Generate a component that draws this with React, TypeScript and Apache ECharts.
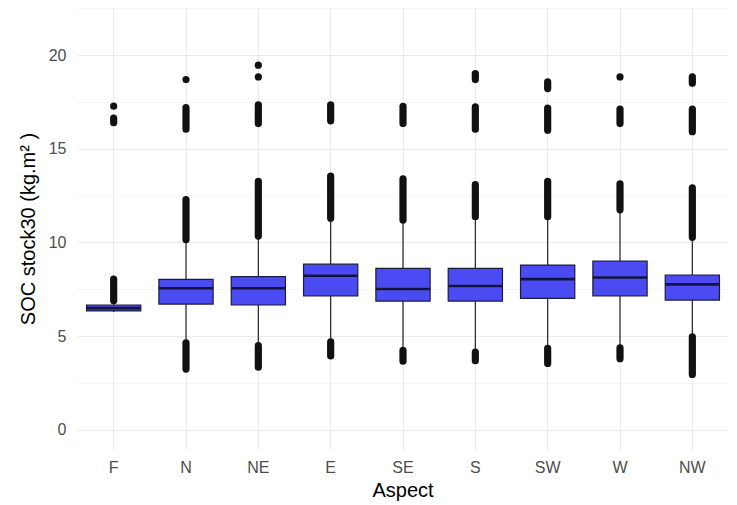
import React, { useEffect, useRef } from "react";
import * as echarts from "echarts";

const categories = ["F", "N", "NE", "E", "SE", "S", "SW", "W", "NW"];
const whiskerLow = [6.3, 4.8, 4.66, 4.84, 4.39, 4.3, 4.5, 4.53, 5.12];
const q1 = [6.35, 6.72, 6.67, 7.16, 6.88, 6.88, 7.02, 7.16, 6.93];
const median = [6.5, 7.56, 7.56, 8.23, 7.52, 7.68, 8.05, 8.14, 7.77];
const q3 = [6.67, 8.04, 8.18, 8.85, 8.62, 8.62, 8.8, 9.01, 8.27];
const whiskerHigh = [6.78, 10.0, 10.2, 11.16, 11.06, 11.23, 11.23, 11.6, 10.13];

// outliers: [category index, low, high] (dense runs drawn as one capsule)
const outlierRanges: [number, number, number][] = [
  [0, 17.28, 17.28], [0, 16.4, 16.65], [0, 6.9, 8.05],
  [1, 18.7, 18.7], [1, 16.05, 17.2], [1, 10.15, 12.3], [1, 3.25, 4.65],
  [2, 19.47, 19.47], [2, 18.84, 18.84], [2, 16.35, 17.35], [2, 10.35, 13.27], [2, 3.35, 4.5],
  [3, 16.5, 17.35], [3, 11.3, 13.55], [3, 3.95, 4.7],
  [4, 16.35, 17.27], [4, 11.2, 13.4], [4, 3.67, 4.25],
  [5, 18.7, 19.02], [5, 16.05, 17.24], [5, 11.38, 13.1], [5, 3.7, 4.15],
  [6, 18.22, 18.58], [6, 16.0, 17.18], [6, 11.38, 13.27], [6, 3.55, 4.35],
  [7, 18.84, 18.84], [7, 16.35, 17.13], [7, 11.75, 13.13], [7, 3.8, 4.38],
  [8, 18.5, 18.85], [8, 15.92, 17.13], [8, 10.28, 12.92], [8, 2.96, 4.97],
];

const yTicks = [0, 5, 10, 15, 20];
const yMinor = [2.5, 7.5, 12.5, 17.5, 22.5];

const FONT = "'Liberation Sans', Arial, sans-serif";

export default function App() {
  const ref = useRef<HTMLDivElement>(null);
  useEffect(() => {
    if (!ref.current) return;
    const chart = echarts.init(ref.current, null, { renderer: "svg" });
    const gridLines: any[] = [
      ...yTicks.map((v) => ({ yAxis: v, lineStyle: { color: "#EBEBEB", width: 1.1, type: "solid" } })),
      ...yMinor.map((v) => ({ yAxis: v, lineStyle: { color: "#EFEFEF", width: 0.6, type: "solid" } })),
      ...categories.map((c) => ({ xAxis: c, lineStyle: { color: "#EBEBEB", width: 1.1, type: "solid" } })),
    ];
    const boxData = categories.map((_, i) => [i, whiskerLow[i], q1[i], median[i], q3[i], whiskerHigh[i]]);
    chart.setOption({
      animation: false,
      grid: { left: 77.5, right: 8.5, top: 8, bottom: 55, containLabel: false },
      xAxis: {
        type: "category",
        data: categories,
        boundaryGap: true,
        axisLine: { show: false },
        axisTick: { show: false },
        splitLine: { show: false },
        axisLabel: { color: "#4D4D4D", fontSize: 16, fontFamily: FONT, margin: 9 },
        name: "Aspect",
        nameLocation: "middle",
        nameGap: 30,
        nameTextStyle: { color: "#000", fontSize: 20, fontFamily: FONT },
      },
      yAxis: {
        type: "value",
        min: -1.07,
        max: 22.52,
        axisLine: { show: false },
        axisTick: { show: false },
        splitLine: { show: false },
        axisLabel: { color: "#4D4D4D", fontSize: 16, fontFamily: FONT, margin: 11, customValues: yTicks },
        name: "SOC stock30 (kg.m² )",
        nameLocation: "middle",
        nameGap: 40,
        nameRotate: 90,
        nameTextStyle: { color: "#000", fontSize: 20, fontFamily: FONT },
      },
      series: [
        {
          type: "line",
          data: [],
          z: 1,
          silent: true,
          markLine: { silent: true, z: 1, symbol: "none", label: { show: false }, data: gridLines, animation: false },
        },
        {
          type: "custom",
          z: 10,
          data: boxData,
          encode: { x: 0, y: [1, 2, 3, 4, 5] },
          renderItem: (params: any, api: any) => {
            const i = api.value(0);
            const band = api.size([1, 0])[0];
            const half = band * 0.375;
            const pLow = api.coord([i, api.value(1)]);
            const pQ1 = api.coord([i, api.value(2)]);
            const pMed = api.coord([i, api.value(3)]);
            const pQ3 = api.coord([i, api.value(4)]);
            const pHigh = api.coord([i, api.value(5)]);
            const cx = pQ1[0];
            const stroke = { stroke: "#222", lineWidth: 1.2 };
            return {
              type: "group",
              children: [
                { type: "line", shape: { x1: cx, y1: pQ3[1], x2: cx, y2: pHigh[1] }, style: stroke },
                { type: "line", shape: { x1: cx, y1: pQ1[1], x2: cx, y2: pLow[1] }, style: stroke },
                {
                  type: "rect",
                  shape: { x: cx - half, y: pQ3[1], width: half * 2, height: pQ1[1] - pQ3[1] },
                  style: { fill: "#4B4BF4", stroke: "#1c1c3a", lineWidth: 1.2 },
                },
                {
                  type: "line",
                  shape: { x1: cx - half, y1: pMed[1], x2: cx + half, y2: pMed[1] },
                  style: { stroke: "#14143a", lineWidth: 2.6 },
                },
              ],
            };
          },
        },
        {
          type: "custom",
          z: 11,
          data: outlierRanges,
          encode: { x: 0, y: [1, 2] },
          renderItem: (params: any, api: any) => {
            const i = api.value(0);
            const pLo = api.coord([i, api.value(1)]);
            const pHi = api.coord([i, api.value(2)]);
            const r = 3.6;
            return {
              type: "rect",
              shape: { x: pLo[0] - r, y: pHi[1] - r, width: 2 * r, height: pLo[1] - pHi[1] + 2 * r, r: r },
              style: { fill: "#111" },
            };
          },
        },
      ],
    });
    return () => chart.dispose();
  }, []);
  return <div ref={ref} style={{ width: 737, height: 505, position: "absolute", left: 0, top: 0, background: "#fff" }} />;
}
